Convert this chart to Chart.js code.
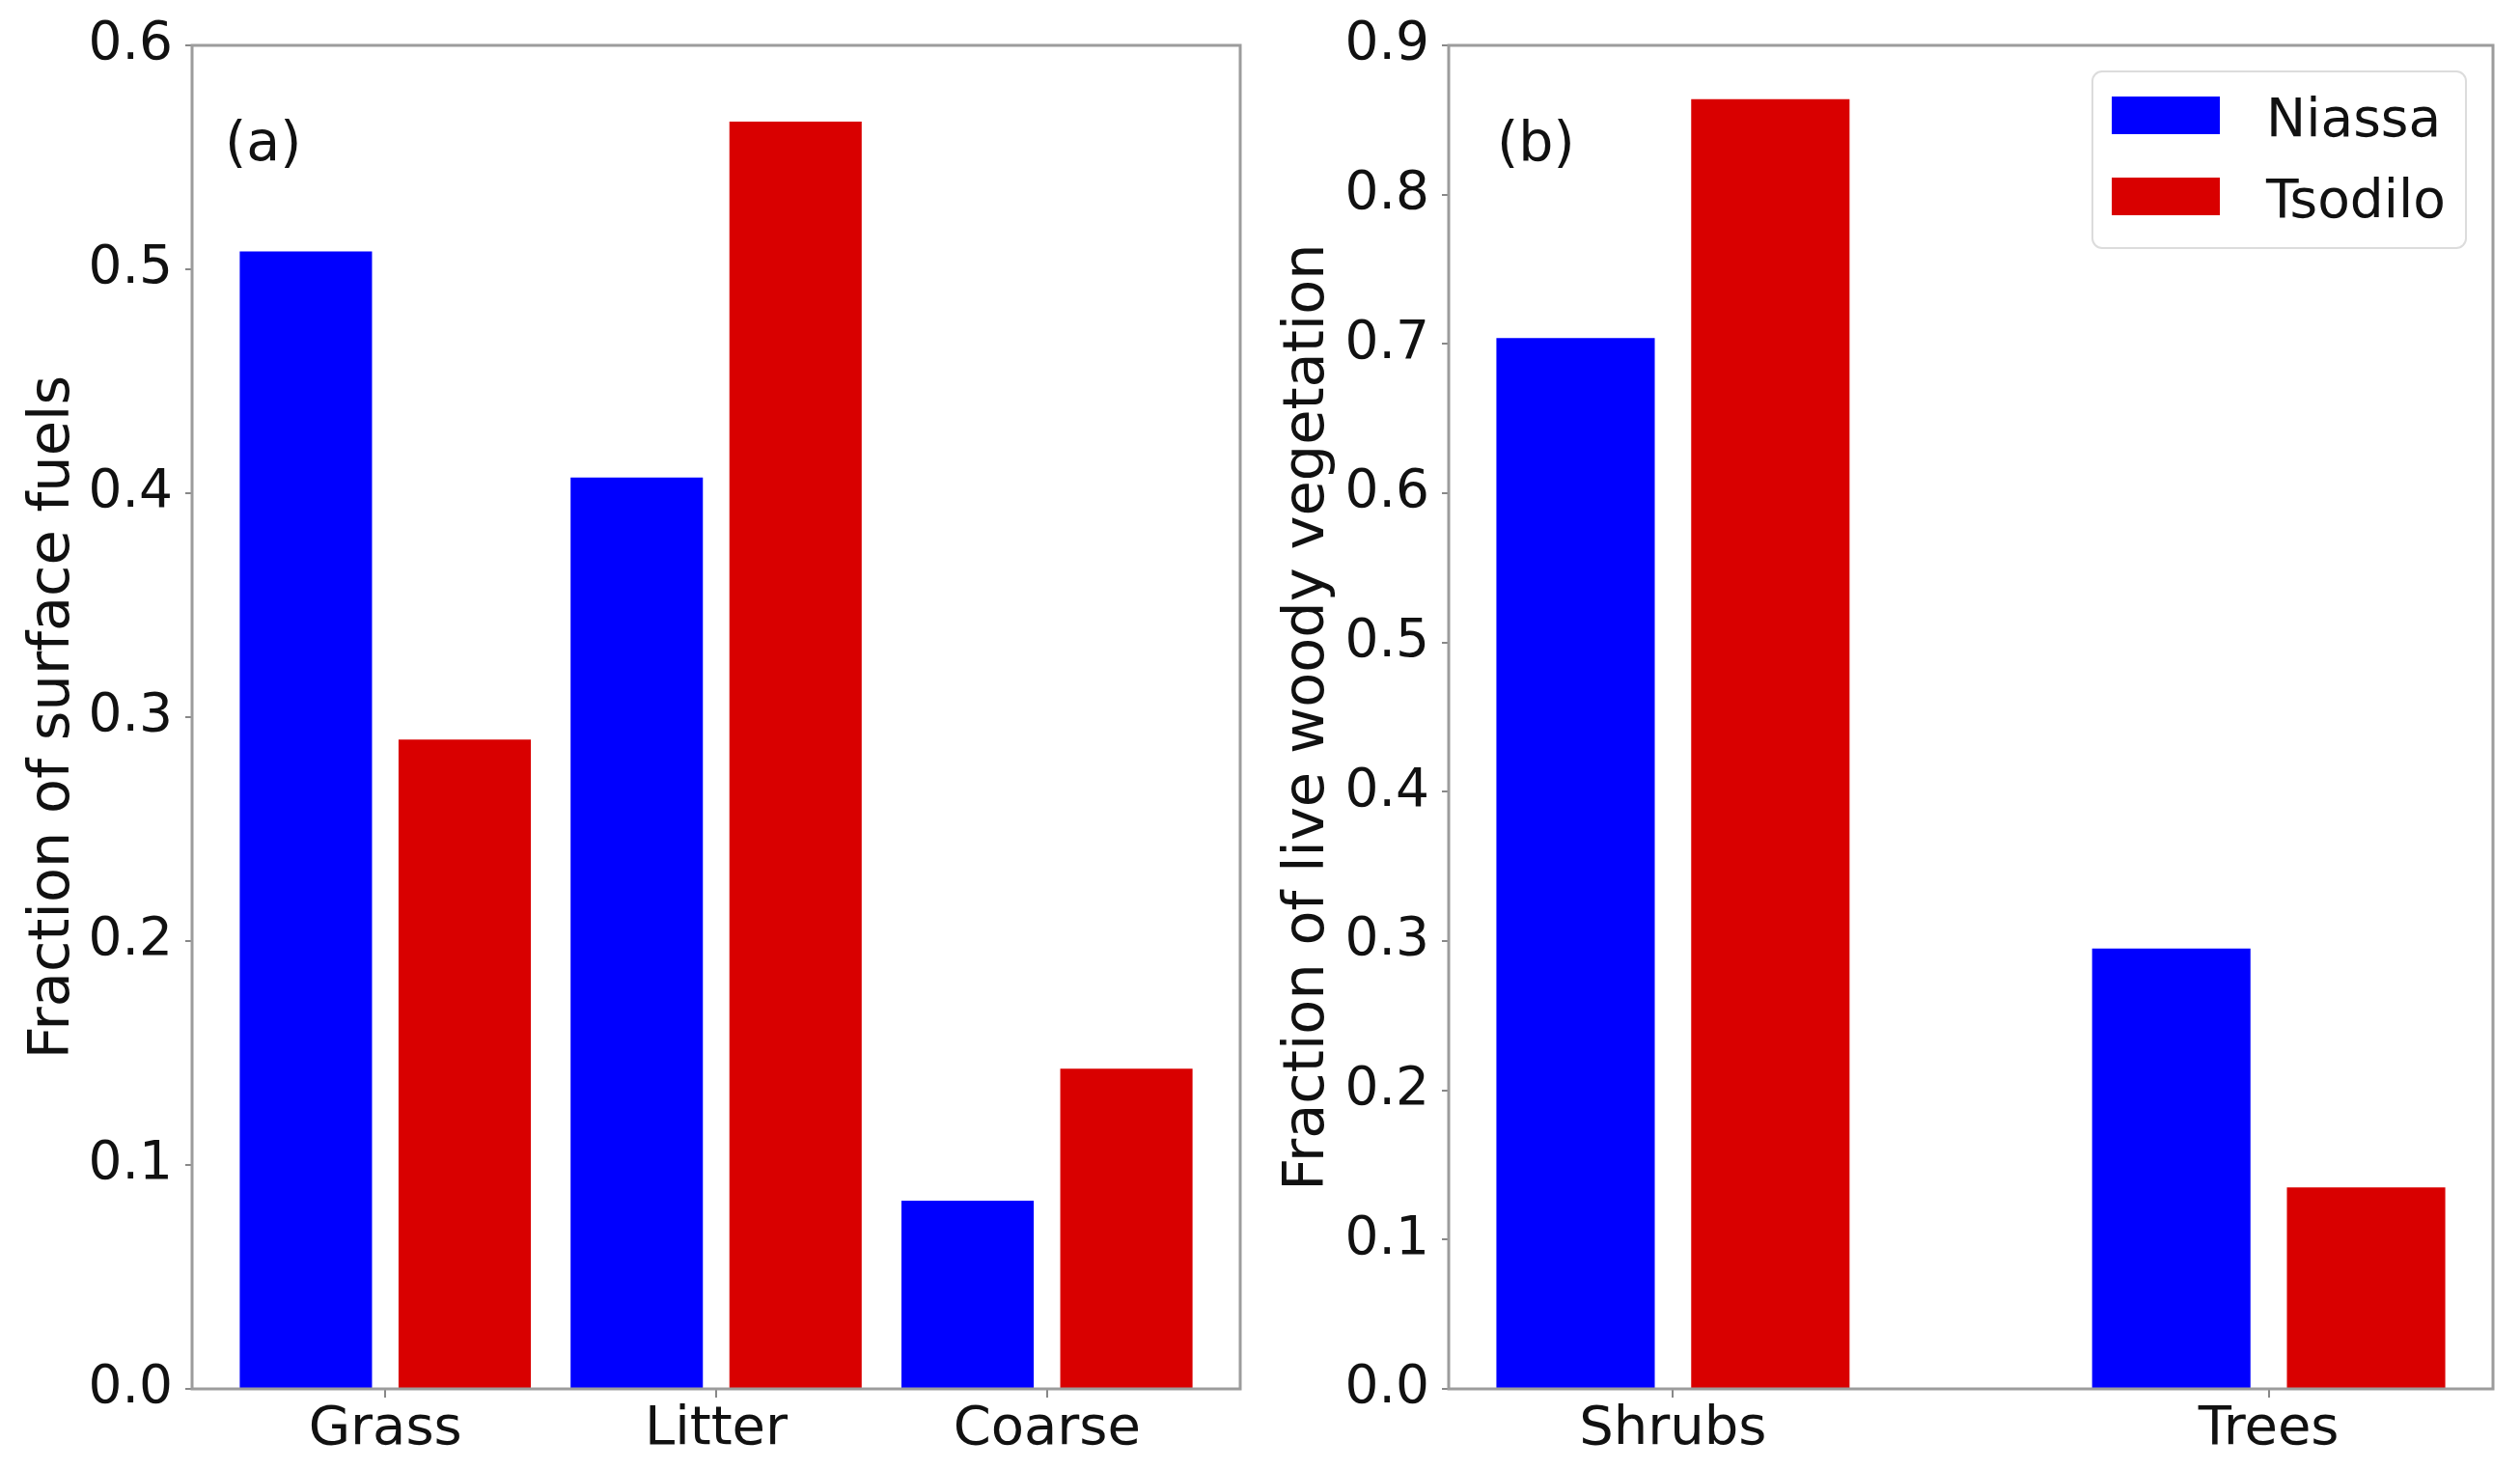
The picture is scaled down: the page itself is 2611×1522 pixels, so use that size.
<!DOCTYPE html>
<html><head><meta charset="utf-8">
<script src="https://cdn.jsdelivr.net/npm/chart.js@4.4.1/dist/chart.umd.min.js"></script>
<style>
html,body{margin:0;padding:0;background:#fff;width:2611px;height:1522px;overflow:hidden}
.box{position:absolute;top:0;height:1522px}
</style></head><body>
<div class="box" style="left:0;width:1300px"><canvas id="ca"></canvas></div>
<div class="box" style="left:1300px;width:1311px"><canvas id="cb"></canvas></div>
<script>
// ---- data ----
const seriesNames = ['Niassa', 'Tsodilo'];
const surfaceCategories = ['Grass', 'Litter', 'Coarse'];
const surfaceNiassa = [0.508, 0.407, 0.084];
const surfaceTsodilo = [0.290, 0.566, 0.143];
const woodyCategories = ['Shrubs', 'Trees'];
const woodyNiassa = [0.704, 0.295];
const woodyTsodilo = [0.864, 0.135];
const surfaceTicks = [0.0, 0.1, 0.2, 0.3, 0.4, 0.5, 0.6];
const woodyTicks = [0.0, 0.1, 0.2, 0.3, 0.4, 0.5, 0.6, 0.7, 0.8, 0.9];
const surfaceTitle = 'Fraction of surface fuels';
const woodyTitle = 'Fraction of live woody vegetation';
const panelLabels = ['(a)', '(b)'];

// ---- styles ----
const FONT = 'DejaVu Sans';
const BLUE = '#0000ff';
const RED = '#d90000';
const SPINE = '#9c9c9c';
const TXT = '#111111';

function makeChart(canvasId, cats, nVals, tVals, yTicks, yTitle, xMin, xMax, catPct, barPct,
                   yAxisW, rightPad, label, labelDx, legend) {
  const framePlugin = {
    id: 'frame',
    afterDraw(chart) {
      const ctx = chart.ctx, a = chart.chartArea;
      ctx.save();
      ctx.strokeStyle = SPINE;
      ctx.lineWidth = 3;
      ctx.strokeRect(a.left, a.top, a.right - a.left, a.bottom - a.top);
      ctx.fillStyle = TXT;
      ctx.font = '57px "' + FONT + '"';
      ctx.textBaseline = 'alphabetic';
      ctx.textAlign = 'left';
      ctx.fillText(label, a.left + labelDx, a.top + 119);
      if (legend) {
        const bw = 387, bh = 183;
        const bx = a.right - 28 - bw, by = a.top + 27;
        ctx.beginPath();
        ctx.roundRect(bx, by, bw, bh, 10);
        ctx.fillStyle = 'rgba(255,255,255,0.8)';
        ctx.fill();
        ctx.strokeStyle = '#dcdcdc';
        ctx.lineWidth = 2;
        ctx.stroke();
        chart.data.datasets.forEach((ds, i) => {
          const py = by + 26 + i * 84;
          ctx.fillStyle = ds.backgroundColor;
          ctx.fillRect(bx + 20, py, 112, 39);
          ctx.fillStyle = TXT;
          ctx.font = '55px "' + FONT + '"';
          ctx.fillText(ds.label, bx + 180, py + 19.5 + 21);
        });
      }
      ctx.restore();
    }
  };
  return new Chart(document.getElementById(canvasId), {
    type: 'bar',
    data: {
      datasets: [
        { label: seriesNames[0], data: nVals.map((v, i) => ({ x: i, y: v })), backgroundColor: BLUE,
          categoryPercentage: catPct, barPercentage: barPct },
        { label: seriesNames[1], data: tVals.map((v, i) => ({ x: i, y: v })), backgroundColor: RED,
          categoryPercentage: catPct, barPercentage: barPct }
      ]
    },
    options: {
      responsive: true,
      maintainAspectRatio: false,
      animation: false,
      layout: { padding: { top: 47, right: rightPad, left: 0, bottom: 0 } },
      plugins: { legend: { display: false }, tooltip: { enabled: false } },
      scales: {
        x: {
          type: 'linear', min: xMin, max: xMax, offset: false,
          afterBuildTicks: s => { s.ticks = cats.map((c, i) => ({ value: i })); },
          afterFit: s => { s.height = 83; },
          grid: { display: true, drawOnChartArea: false, drawTicks: true, tickLength: 9, color: '#888', lineWidth: 2, offset: false },
          border: { display: false },
          ticks: { font: { family: FONT, size: 56 }, color: TXT, padding: 0, maxRotation: 0,
                   callback: v => cats[Math.round(v)] }
        },
        y: {
          min: yTicks[0], max: yTicks[yTicks.length - 1],
          afterBuildTicks: s => { s.ticks = yTicks.map(v => ({ value: v })); },
          afterFit: s => { s.width = yAxisW; },
          grid: { display: true, drawOnChartArea: false, drawTicks: true, tickLength: 7, color: '#888', lineWidth: 2 },
          border: { display: false },
          ticks: { font: { family: FONT, size: 55 }, color: TXT, padding: 13, callback: v => Number(v).toFixed(1) },
          title: { display: true, text: yTitle, font: { family: FONT, size: 59 }, color: TXT, padding: { top: 20, bottom: 0 } }
        }
      }
    },
    plugins: [framePlugin]
  });
}

makeChart('ca', surfaceCategories, surfaceNiassa, surfaceTsodilo, surfaceTicks, surfaceTitle,
          -0.584, 2.584, 0.96, 0.833, 199, 15, panelLabels[0], 34, false);
makeChart('cb', woodyCategories, woodyNiassa, woodyTsodilo, woodyTicks, woodyTitle,
          -0.3765, 1.3765, 0.654, 0.813, 201, 28, panelLabels[1], 50, true);
</script>
</body></html>
